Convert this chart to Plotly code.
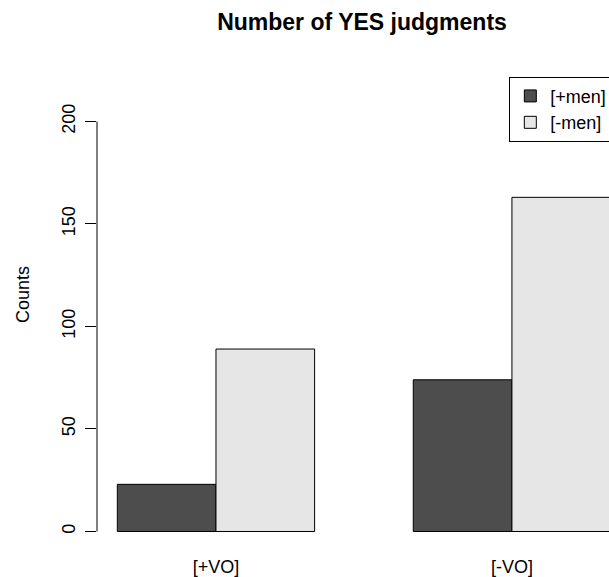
import plotly.graph_objects as go

categories = ["[+VO]", "[-VO]"]
series_names = ["[+men]", "[-men]"]
plus_men = [23, 74]
minus_men = [89, 163]
y_ticks = [0, 50, 100, 150, 200]

FONT = "Liberation Sans, Arial, Helvetica, sans-serif"

fig = go.Figure()
fig.add_trace(go.Bar(x=categories, y=plus_men, name=series_names[0],
                     marker=dict(color="#4D4D4D", line=dict(color="black", width=1))))
fig.add_trace(go.Bar(x=categories, y=minus_men, name=series_names[1],
                     marker=dict(color="#E6E6E6", line=dict(color="black", width=1))))

fig.update_layout(
    width=609, height=577,
    margin=dict(l=97, r=0, t=77, b=28, autoexpand=False),
    paper_bgcolor="white", plot_bgcolor="white",
    barmode="group", bargap=1/3, bargroupgap=0,
    font=dict(family=FONT, size=18, color="black"),
    title=dict(text="<b>Number of YES judgments</b>", font=dict(size=23, family=FONT, color="black"),
               x=0.5176, xref="paper", xanchor="center",
               y=1 - 22/577, yref="container", yanchor="middle"),
    xaxis=dict(range=[-0.402, 1.328], showline=False, showgrid=False, zeroline=False,
               ticks="", tickfont=dict(size=18), ticklabelstandoff=5),
    yaxis=dict(range=[-8.54, 221.7], showline=False, showgrid=False, zeroline=False,
               tickmode="array", tickvals=y_ticks, ticktext=[str(v) for v in y_ticks],
               ticks="outside", ticklen=11, tickwidth=1, tickcolor="black",
               tickangle=-90, tickfont=dict(size=18), ticklabelstandoff=3),
    legend=dict(x=0.8053, y=1.0006, xanchor="left", yanchor="top", xref="paper", yref="paper",
                bordercolor="black", borderwidth=1, bgcolor="white",
                font=dict(size=18, family=FONT), traceorder="normal"),
    showlegend=True,
)

# y axis line spanning the tick range (R style)
fig.add_shape(type="line", xref="paper", yref="y", x0=0, x1=0, y0=y_ticks[0], y1=y_ticks[-1],
              line=dict(color="black", width=1))

fig.add_annotation(text="Counts", xref="paper", yref="paper", x=-0.1445, y=0.538,
                   xanchor="center", yanchor="middle", textangle=-90, showarrow=False,
                   font=dict(size=18, family=FONT, color="black"))

fig.write_html("out.html", config={"displayModeBar": False},
               post_script="document.body.style.margin='0px';document.body.style.padding='0px';")
